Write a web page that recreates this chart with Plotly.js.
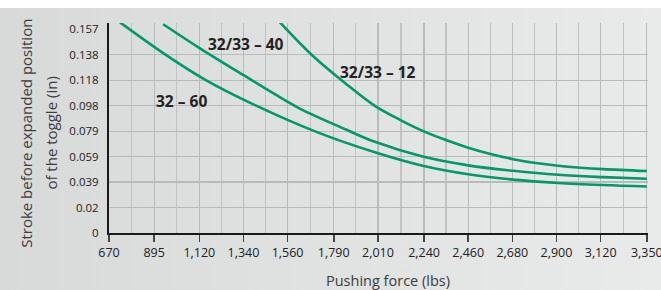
<!DOCTYPE html>
<html>
<head>
<meta charset="utf-8">
<script src="https://cdn.plot.ly/plotly-3.0.1.min.js"></script>
<style>
html,body{margin:0;padding:0;background:#fff;overflow:hidden;}
#chart{width:661px;height:290px;
background:linear-gradient(to bottom,#ffffff 0,#ffffff 8px,rgba(255,255,255,0) 8px),linear-gradient(to right,#d8d9d9,#e9eaea);}
</style>
</head>
<body>
<div id="chart"></div>
<script>
// X tick labels (lbs)
var xTicks = [670, 895, 1120, 1340, 1560, 1790, 2010, 2240, 2460, 2680, 2900, 3120, 3350];
var xTickText = ["670","895","1,120","1,340","1,560","1,790","2,010","2,240","2,460","2,680","2,900","3,120","3,350"];
// Y tick labels (in)
var yTicks = [0, 0.0197, 0.0394, 0.0591, 0.0787, 0.0984, 0.1181, 0.1378, 0.1575];
var yTickText = ["0","0.02","0.039","0.059","0.079","0.098","0.118","0.138","0.157"];

// Series: 32 - 60
var s60x = [725, 957, 1148, 1406, 1713, 1995, 2233, 2460, 2684, 2908, 3132, 3350];
var s60y = [0.1629, 0.1374, 0.1187, 0.0983, 0.0776, 0.0624, 0.0520, 0.0454, 0.0413, 0.0387, 0.0371, 0.0360];
// Series: 32/33 - 40
var s40x = [940, 1123, 1339, 1488, 1621, 1854, 1995, 2233, 2460, 2684, 2908, 3132, 3350];
var s40y = [0.1614, 0.1428, 0.1222, 0.1081, 0.0962, 0.0798, 0.0705, 0.0591, 0.0523, 0.0481, 0.0450, 0.0432, 0.0419];
// Series: 32/33 - 12
var s12x = [1522, 1681, 1846, 1995, 2120, 2233, 2349, 2460, 2571, 2684, 2797, 2908, 3020, 3132, 3350];
var s12y = [0.1629, 0.1377, 0.1160, 0.0983, 0.0875, 0.0790, 0.0719, 0.0660, 0.0611, 0.0571, 0.0541, 0.0520, 0.0505, 0.0494, 0.0479];

var seriesNames = ["32 – 60", "32/33 – 40", "32/33 – 12"];
var labelX = [1029, 1355, 2012];
var labelY = [0.1020, 0.1460, 0.1246];

var green = "#00996c";
function tr(x, y, n){
  return {x:x, y:y, name:n, mode:"lines", type:"scatter",
    line:{color:green, width:2.6, shape:"spline", smoothing:1},
    hoverinfo:"skip", showlegend:false};
}
var data = [tr(s60x,s60y,seriesNames[0]), tr(s40x,s40y,seriesNames[1]), tr(s12x,s12y,seriesNames[2])];

var xMinor = [];
for (var i=0;i<xTicks.length-1;i++) xMinor.push((xTicks[i]+xTicks[i+1])/2);
var yGrid = yTicks.slice(1, yTicks.length-1);

var font = "Open Sans, Noto Sans, sans-serif";
var annotations = [];
for (var k=0;k<seriesNames.length;k++){
  annotations.push({x:labelX[k], y:labelY[k], xref:"x", yref:"y", text:"<b>"+seriesNames[k]+"</b>",
    showarrow:false, xanchor:"center", yanchor:"middle", font:{family:font, size:15.5, color:"#222"}});
}
annotations.push({x:-0.154, y:0.477, xref:"paper", yref:"paper", text:"Stroke before expanded position",
  textangle:-90, showarrow:false, xanchor:"center", yanchor:"middle", font:{family:font, size:15, color:"#3c3c3c"}});
annotations.push({x:-0.108, y:0.477, xref:"paper", yref:"paper", text:"of the toggle (in)",
  textangle:-90, showarrow:false, xanchor:"center", yanchor:"middle", font:{family:font, size:15, color:"#3c3c3c"}});
annotations.push({x:0.517, y:-0.224, xref:"paper", yref:"paper", text:"Pushing force (lbs)",
  showarrow:false, xanchor:"center", yanchor:"middle", font:{family:font, size:14.5, color:"#3c3c3c"}});

var layout = {
  width:661, height:290,
  margin:{l:109, r:12.8, t:23, b:56.7, pad:0},
  paper_bgcolor:"rgba(0,0,0,0)", plot_bgcolor:"rgba(0,0,0,0)",
  font:{family:font, size:12, color:"#222"},
  xaxis:{range:[670,3356], tickmode:"array", tickvals:xTicks, ticktext:xTickText,
    showgrid:true, gridcolor:"#b9baba", gridwidth:1.3, zeroline:false,
    showline:true, linecolor:"#1a1a1a", linewidth:2,
    ticks:"outside", ticklen:7, tickwidth:1.5, tickcolor:"#444",
    ticklabeloverflow:"allow",
    tickfont:{family:font, size:12.5, color:"#222"},
    minor:{tickmode:"array", tickvals:xMinor, showgrid:true, gridcolor:"#c2c3c3", gridwidth:1.3, ticks:""},
    fixedrange:true},
  yaxis:{range:[0,0.1624], tickmode:"array", tickvals:yTicks, ticktext:yTickText,
    showgrid:false, zeroline:false,
    showline:true, linecolor:"#1a1a1a", linewidth:2, ticks:"", ticklabelstandoff:6,
    tickfont:{family:font, size:11.5, color:"#222"},
    minor:{tickmode:"array", tickvals:yGrid, showgrid:true, gridcolor:"#b9baba", gridwidth:1.3, ticks:""},
    fixedrange:true},
  annotations:annotations
};
Plotly.newPlot("chart", data, layout, {displayModeBar:false, staticPlot:true});
</script>
</body>
</html>
